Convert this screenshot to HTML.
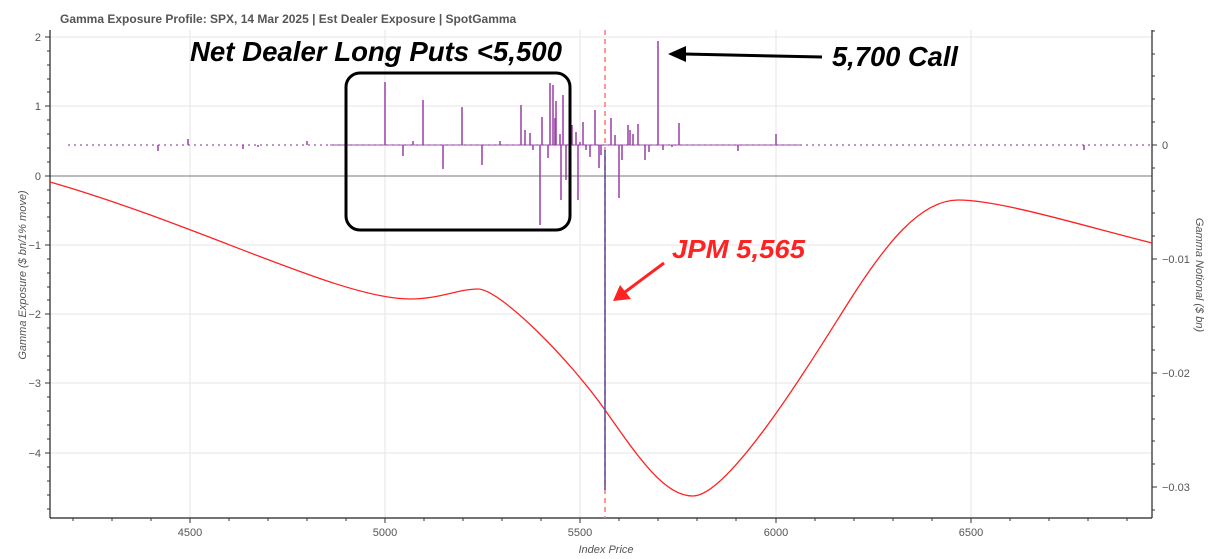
<!DOCTYPE html>
<html><head><meta charset="utf-8"><style>
body{margin:0;background:#fff;}
svg{display:block;font-family:"Liberation Sans",sans-serif;}
</style></head><body>
<svg width="1225" height="559" viewBox="0 0 1225 559">
<text x="60" y="23" font-size="12" font-weight="bold" fill="#555">Gamma Exposure Profile: SPX, 14 Mar 2025 | Est Dealer Exposure | SpotGamma</text>
<g stroke="#e6e6e6" stroke-width="1">
<line x1="50" x2="1152" y1="37" y2="37"/><line x1="50" x2="1152" y1="106" y2="106"/>
<line x1="50" x2="1152" y1="245" y2="245"/><line x1="50" x2="1152" y1="314" y2="314"/>
<line x1="50" x2="1152" y1="383" y2="383"/><line x1="50" x2="1152" y1="453" y2="453"/>
<line x1="190" x2="190" y1="30" y2="518"/><line x1="385" x2="385" y1="30" y2="518"/>
<line x1="580" x2="580" y1="30" y2="518"/><line x1="776" x2="776" y1="30" y2="518"/>
<line x1="971" x2="971" y1="30" y2="518"/>
</g>
<line x1="50" x2="1152" y1="176" y2="176" stroke="#777" stroke-width="1"/>
<g stroke="#222" stroke-width="1.2" fill="none">
<line x1="50" y1="30" x2="50" y2="518"/><line x1="1152" y1="30" x2="1152" y2="518"/>
<line x1="50" y1="518" x2="1152" y2="518"/>
</g>
<g stroke="#333" stroke-width="1">
<path d="M45 37H50M45 106H50M45 176H50M45 245H50M45 314H50M45 383H50M45 453H50"/>
<path d="M47 51H50M47 65H50M47 79H50M47 92H50M47 120H50M47 134H50M47 148H50M47 162H50M47 190H50M47 203H50M47 217H50M47 231H50M47 259H50M47 273H50M47 287H50M47 300H50M47 328H50M47 342H50M47 356H50M47 370H50M47 397H50M47 411H50M47 425H50M47 439H50M47 467H50M47 481H50M47 495H50M47 509H50"/>
<path d="M1152 145H1157M1152 259H1157M1152 373H1157M1152 487H1157"/>
<path d="M1152 122H1155M1152 99H1155M1152 76H1155M1152 54H1155M1152 31H1155M1152 168H1155M1152 191H1155M1152 213H1155M1152 236H1155M1152 282H1155M1152 305H1155M1152 327H1155M1152 350H1155M1152 396H1155M1152 419H1155M1152 441H1155M1152 464H1155M1152 510H1155"/>
<path d="M190 518V523M385 518V523M580 518V523M776 518V523M971 518V523"/>
<path d="M73 518V521M112 518V521M151 518V521M229 518V521M268 518V521M307 518V521M346 518V521M424 518V521M463 518V521M502 518V521M541 518V521M619 518V521M658 518V521M697 518V521M736 518V521M815 518V521M854 518V521M893 518V521M932 518V521M1010 518V521M1049 518V521M1088 518V521M1127 518V521"/>
</g>
<g font-size="11" fill="#555" text-anchor="end">
<text x="41" y="41">2</text><text x="41" y="110">1</text><text x="41" y="180">0</text>
<text x="41" y="249">−1</text><text x="41" y="318">−2</text><text x="41" y="387">−3</text><text x="41" y="457">−4</text>
</g>
<g font-size="11" fill="#555">
<text x="1162" y="149">0</text><text x="1162" y="263">−0.01</text><text x="1162" y="377">−0.02</text><text x="1162" y="491">−0.03</text>
</g>
<g font-size="11" fill="#555" text-anchor="middle">
<text x="190" y="536">4500</text><text x="385" y="536">5000</text><text x="580" y="536">5500</text><text x="776" y="536">6000</text><text x="971" y="536">6500</text>
<text x="606" y="553" font-style="italic">Index Price</text>
<text transform="translate(26,275) rotate(-90)" font-style="italic">Gamma Exposure ($ bn/1% move)</text>
<text transform="translate(1196,275) rotate(90)" font-style="italic">Gamma Notional ($ bn)</text>
</g>
<line x1="68" x2="1150" y1="145" y2="145" stroke="#a050b0" stroke-width="1.2" stroke-dasharray="2 4"/>
<line x1="330" x2="800" y1="145" y2="145" stroke="#a050b0" stroke-width="1"/>
<g stroke="#9b3fa8" stroke-width="1.5">
<path d="M158 145V151M188 145V139M243 145V149M258 145V147M307 145V141M403 145V156M413 145V141M443 145V169M482 145V165M500 145V141M521 145V105M525 145V130M530 145V133M533 145V150M540 145V225M542 145V117M548 145V158M550 145V83M553 145V85M555 145V118M556 145V101M560 145V134M561 145V200M563 145V95M566 145V180M572 145V125M576 145V132M578 145V200M580 145V142M583 145V122M586 145V150M590 145V157M595 145V110M599 145V168M601 145V155M611 145V118M615 145V135M619 145V198M622 145V160M628 145V125M630 145V130M633 145V134M638 145V124M645 145V160M649 145V152M658 145V41M663 145V150M672 145V147M679 145V123M738 145V151M776 145V134M385 145V82M423 145V100M462 145V107M1084 145V150"/>
</g>
<path d="M50 182 C200 225,340 299,410 299 C440 299,458 289,478 289 C500 289,570 360,605 410 C640 460,665 496,693 496 C730 496,815 355,850 300 C885 245,920 200,958 200 C1000 200,1080 225,1152 243" fill="none" stroke="#f22" stroke-width="1.3"/>
<line x1="605" y1="30" x2="605" y2="518" stroke="#f77" stroke-width="1.5" stroke-dasharray="5 4"/>
<line x1="605" y1="150" x2="605" y2="490" stroke="#5a4a9a" stroke-width="1.5"/>
<rect x="346" y="73" width="224" height="157" rx="14" fill="none" stroke="#000" stroke-width="3"/>
<text x="190" y="61" font-size="28" font-weight="bold" font-style="italic" fill="#000" textLength="372" lengthAdjust="spacingAndGlyphs">Net Dealer Long Puts &lt;5,500</text>
<text x="832" y="66" font-size="28" font-weight="bold" font-style="italic" fill="#000" textLength="126" lengthAdjust="spacingAndGlyphs">5,700 Call</text>
<line x1="822" y1="57" x2="684" y2="54" stroke="#000" stroke-width="3"/>
<polygon points="668,54 686,46 686,62" fill="#000"/>
<text x="672" y="258" font-size="26" font-weight="bold" font-style="italic" fill="#f22" textLength="133" lengthAdjust="spacingAndGlyphs">JPM 5,565</text>
<line x1="664" y1="263" x2="625" y2="292" stroke="#f22" stroke-width="3"/>
<polygon points="613,301 620,285 631,299" fill="#f22"/>
</svg>
</body></html>
